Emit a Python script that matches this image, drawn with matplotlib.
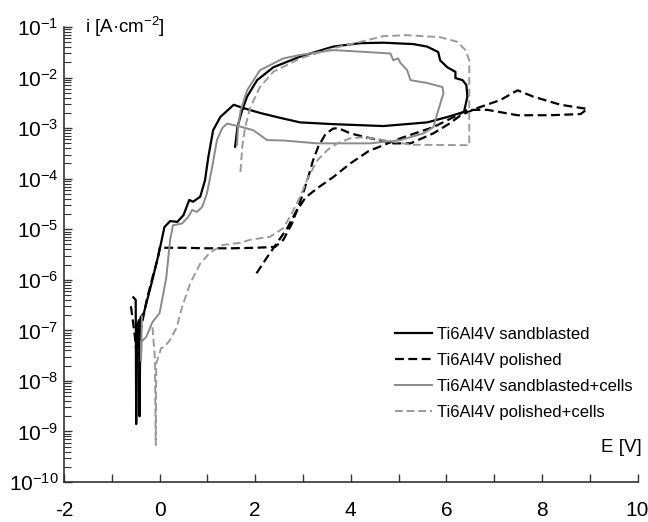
import matplotlib
matplotlib.use("Agg")
import matplotlib.pyplot as plt
from matplotlib.ticker import FixedLocator, LogLocator, NullFormatter


# Ti6Al4V sandblasted (black solid)
E_SAND = [-0.55, -0.50, -0.49, -0.47, -0.43, -0.42, -0.40, -0.33, -0.15, 0.0,
          0.10, 0.22, 0.37, 0.50, 0.62, 0.70, 0.85, 0.95, 1.02, 1.12,
          1.27, 1.55, 1.75, 2.10, 2.52, 2.94, 3.63, 4.68, 5.60, 6.02,
          6.37, 6.44, 6.42, 6.34, 6.19, 6.19, 6.02, 5.87, 5.83, 5.60,
          5.31, 4.68, 4.20, 3.63, 2.94, 2.38, 2.04, 1.83, 1.73, 1.63, 1.58]
I_SAND = [4.5e-7, 4.0e-7, 1.4e-9, 1.2e-7, 1.6e-7, 2.0e-9, 1.8e-7, 2.2e-7, 1.0e-6, 3.9e-6,
          1.1e-5, 1.45e-5, 1.4e-5, 1.9e-5, 3.8e-5, 3.5e-5, 4.4e-5, 9.3e-5, 2.7e-4, 9.1e-4,
          1.66e-3, 2.9e-3, 2.5e-3, 2.0e-3, 1.6e-3, 1.3e-3, 1.2e-3, 1.1e-3, 1.3e-3, 1.66e-3,
          2.1e-3, 4.2e-3, 7.1e-3, 8.9e-3, 9.8e-3, 1.3e-2, 1.6e-2, 2.2e-2, 3.2e-2, 4.1e-2,
          4.6e-2, 4.9e-2, 4.8e-2, 4.1e-2, 2.6e-2, 1.6e-2, 8.9e-3, 4.2e-3, 2.3e-3, 1.07e-3, 4.3e-4]

# Ti6Al4V polished (black dashed)
E_POL = [-0.60, -0.52, -0.47, -0.41, -0.27, -0.15, -0.03, 0.0, 0.5, 1.0,
         1.5, 2.0, 2.25, 2.42, 2.59, 2.77, 2.90, 3.00, 3.11, 3.21,
         3.32, 3.47, 3.63, 3.74, 3.99, 4.26, 4.89, 5.25, 5.73, 6.08,
         6.30, 6.65, 7.13, 7.49, 7.82, 8.39, 8.95, 8.81, 8.18, 7.49,
         6.86, 6.44, 6.23, 5.73, 5.04, 4.37, 3.99, 3.63, 3.30, 3.05,
         2.84, 2.67, 2.46, 2.25, 2.04, 2.00]
I_POL = [3.0e-7, 8.0e-8, 2.6e-8, 8.7e-8, 4.0e-7, 1.1e-6, 2.8e-6, 4.3e-6, 4.3e-6, 4.2e-6,
         4.2e-6, 4.3e-6, 4.4e-6, 4.5e-6, 6.2e-6, 1.3e-5, 2.75e-5, 5.1e-5, 1.07e-4, 2.3e-4,
         4.3e-4, 7.6e-4, 9.8e-4, 1.0e-3, 7.9e-4, 6.8e-4, 5.0e-4, 5.0e-4, 7.9e-4, 1.26e-3,
         1.8e-3, 2.5e-3, 3.6e-3, 5.6e-3, 4.2e-3, 2.9e-3, 2.4e-3, 1.9e-3, 1.8e-3, 1.8e-3,
         2.3e-3, 2.3e-3, 1.8e-3, 1.05e-3, 6.3e-4, 3.5e-4, 2.0e-4, 1.07e-4, 6.5e-5, 4.2e-5,
         2.1e-5, 1.05e-5, 5.4e-6, 2.8e-6, 1.4e-6, 1.3e-6]

# Ti6Al4V sandblasted+cells (grey solid)
E_SAND_C = [-0.37, -0.39, -0.38, -0.28, -0.15, 0.0, 0.14, 0.22, 0.28, 0.47,
            0.60, 0.68, 0.78, 0.89, 0.99, 1.10, 1.20, 1.31, 1.41, 1.69,
            1.96, 2.25, 2.59, 3.30, 4.40, 5.04, 5.52, 5.73, 5.81, 5.94,
            5.92, 5.60, 5.25, 5.18, 5.04, 4.99, 4.89, 4.83, 4.35, 3.63,
            2.94, 2.59, 2.10, 1.83, 1.70, 1.64, 1.62]
I_SAND_C = [1.9e-7, 2.5e-8, 6.0e-8, 7.4e-8, 1.45e-7, 2.2e-7, 1.1e-6, 6.2e-6, 1.2e-5, 1.3e-5,
            1.75e-5, 2.4e-5, 2.2e-5, 2.75e-5, 5.1e-5, 1.7e-4, 5.8e-4, 1.0e-3, 1.23e-3, 1.07e-3,
            9.1e-4, 5.8e-4, 5.7e-4, 5.0e-4, 5.0e-4, 5.8e-4, 7.9e-4, 1.05e-3, 1.95e-3, 4.9e-3,
            6.5e-3, 7.8e-3, 8.9e-3, 1.4e-2, 1.95e-2, 2.4e-2, 2.2e-2, 3.0e-2, 3.2e-2, 3.5e-2,
            2.8e-2, 2.4e-2, 1.4e-2, 5.6e-3, 2.3e-3, 1.07e-3, 4.7e-4]

# Ti6Al4V polished+cells (grey dashed)
E_POL_C = [-0.15, -0.10, -0.08, -0.07, 0.03, 0.10, 0.22, 0.36, 0.47, 0.64,
           0.85, 1.06, 1.33, 1.69, 1.90, 2.31, 2.59, 2.77, 2.94, 3.11,
           3.30, 3.51, 3.72, 3.99, 4.26, 4.60, 4.89, 5.25, 6.44, 6.48,
           6.48, 6.40, 6.23, 5.87, 5.18, 4.68, 4.35, 3.63, 2.94, 2.38,
           2.10, 1.90, 1.79, 1.73, 1.69]
I_POL_C = [1.15e-7, 3.0e-8, 5.4e-10, 2.2e-8, 4.4e-8, 4.7e-8, 6.5e-8, 1.15e-7, 2.9e-7, 8.5e-7,
           2.1e-6, 3.5e-6, 4.9e-6, 5.4e-6, 6.2e-6, 7.1e-6, 1.05e-5, 2.1e-5, 4.4e-5, 1.07e-4,
           2.3e-4, 3.7e-4, 5.0e-4, 6.3e-4, 6.6e-4, 6.0e-4, 5.4e-4, 4.7e-4, 4.6e-4, 4.6e-4,
           2.2e-2, 3.5e-2, 5.1e-2, 6.3e-2, 6.9e-2, 6.6e-2, 5.5e-2, 3.8e-2, 2.4e-2, 1.3e-2,
           6.5e-3, 2.6e-3, 1.05e-3, 4.3e-4, 1.3e-4]

LABELS = ["Ti6Al4V sandblasted", "Ti6Al4V polished",
          "Ti6Al4V sandblasted+cells", "Ti6Al4V polished+cells"]

X_TICKS = [-2, 0, 2, 4, 6, 8, 10]
Y_DECADES = list(range(-10, 0))


plt.rcParams["font.family"] = ["Liberation Sans", "DejaVu Sans"]
plt.rcParams["mathtext.default"] = "regular"

fig = plt.figure(figsize=(6.48, 5.22), dpi=100)
ax = fig.add_axes([0.0988, 0.0766, 0.885, 0.8716])

ax.plot(E_SAND, I_SAND, color="black", lw=1.6, label=LABELS[0])
ax.plot(E_POL, I_POL, color="black", lw=1.6, dashes=(4, 2), label=LABELS[1])
ax.plot(E_SAND_C, I_SAND_C, color="#8a8a8a", lw=1.4, label=LABELS[2])
ax.plot(E_POL_C, I_POL_C, color="#9a9a9a", lw=1.4, dashes=(4, 2), label=LABELS[3])

ax.set_yscale("log")
ax.set_xlim(-2, 10)
ax.set_ylim(1e-10, 1e-1)

for side in ("top", "right"):
    ax.spines[side].set_visible(False)
for side in ("left", "bottom"):
    ax.spines[side].set_linewidth(1.2)
    ax.spines[side].set_color("#333333")

ax.set_xticks(X_TICKS)
ax.set_xticklabels([str(v) for v in X_TICKS])
ax.xaxis.set_minor_locator(FixedLocator([-1, 1, 3, 5, 7, 9]))
ax.set_yticks([10.0 ** k for k in Y_DECADES])
ax.set_yticklabels([f"$10^{{{k}}}$" for k in Y_DECADES])
ax.yaxis.set_minor_locator(LogLocator(base=10, subs=range(2, 10), numticks=20))
ax.yaxis.set_minor_formatter(NullFormatter())

ax.tick_params(axis="x", which="both", direction="in", length=5.5, width=1.0,
               color="#333333", labelsize=15, pad=14)
ax.tick_params(axis="y", which="major", direction="in", length=5.5, width=1.0,
               color="#333333", labelsize=15, pad=4)
ax.tick_params(axis="y", which="minor", direction="in", length=5, width=0.8,
               color="#333333")

ax.text(0.037, 1.0, "i [A·cm$^{-2}$]", transform=ax.transAxes,
        ha="left", va="center", fontsize=13.5)
ax.text(1.008, 0.075, "E [V]", transform=ax.transAxes,
        ha="right", va="center", fontsize=13.5)

ax.legend(loc="upper left", bbox_to_anchor=(0.577, 0.34), frameon=False,
          fontsize=12, handlelength=2.2, handletextpad=0.3, labelspacing=0.65,
          borderpad=0, borderaxespad=0)

fig.savefig("out.png", dpi=100)
